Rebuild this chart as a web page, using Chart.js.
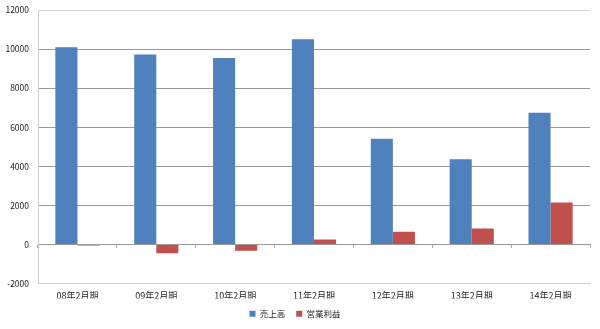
<!DOCTYPE html>
<html>
<head>
<meta charset="utf-8">
<script src="https://cdn.jsdelivr.net/npm/chart.js@4"></script>
<style>
  html, body { margin: 0; padding: 0; background: #fff; }
  #wrap { width: 600px; height: 329px; }
</style>
</head>
<body>
<div id="wrap"><canvas id="chart"></canvas></div>
<script>
// Data
const categories = ["08年2月期", "09年2月期", "10年2月期", "11年2月期", "12年2月期", "13年2月期", "14年2月期"];
const sales = [10100, 9730, 9540, 10500, 5420, 4370, 6750];
const operatingProfit = [-40, -440, -320, 260, 660, 820, 2150];
const seriesNames = ["売上高", "営業利益"];

const FONT = "'Noto Sans CJK JP', 'Liberation Sans', sans-serif";

const ctx = document.getElementById("chart").getContext("2d");

new Chart(ctx, {
  type: "bar",
  data: {
    labels: categories,
    datasets: [
      {
        label: seriesNames[0],
        data: sales,
        backgroundColor: "#4F81BD",
        borderWidth: 0,
      },
      {
        label: seriesNames[1],
        data: operatingProfit,
        backgroundColor: "#C0504D",
        borderWidth: 0,
      },
    ],
  },
  options: {
    responsive: true,
    maintainAspectRatio: false,
    animation: false,
    layout: { padding: { top: 10, right: 10, bottom: 1, left: 0 } },
    datasets: {
      bar: { barPercentage: 1, categoryPercentage: 0.56 },
    },
    plugins: {
      tooltip: { enabled: false },
      legend: {
        position: "bottom",
        labels: {
          boxWidth: 6,
          boxHeight: 6,
          padding: 11,
          color: "#222",
          font: { family: FONT, size: 8.5 },
        },
      },
    },
    scales: {
      x: {
        grid: { display: false },
        border: { display: true, color: "#cfcfcf" },
        ticks: { color: "#222", font: { family: FONT, size: 9 }, padding: -2 },
      },
      // zero line with small tick marks between categories
      x0: {
        type: "category",
        position: { y: 0 },
        offset: true,
        grid: { offset: true, drawOnChartArea: false, drawTicks: true, tickLength: 3, color: "#aaa" },
        border: { display: true, color: "#999" },
        ticks: { display: false },
      },
      y: {
        min: -2000,
        max: 12000,
        afterFit: (scale) => {
          scale.width = 38;
          scale.paddingTop = 0;
        },
        border: { display: true, color: "#cfcfcf" },
        grid: {
          drawTicks: false,
          color: (c) => (c.tick && c.tick.value === 12000 ? "#d4d4d4" : "#999"),
        },
        ticks: {
          stepSize: 2000,
          padding: 9,
          color: "#222",
          font: { family: FONT, size: 8.5 },
          callback: (v) => String(v),
        },
      },
    },
  },
});
</script>
</body>
</html>
